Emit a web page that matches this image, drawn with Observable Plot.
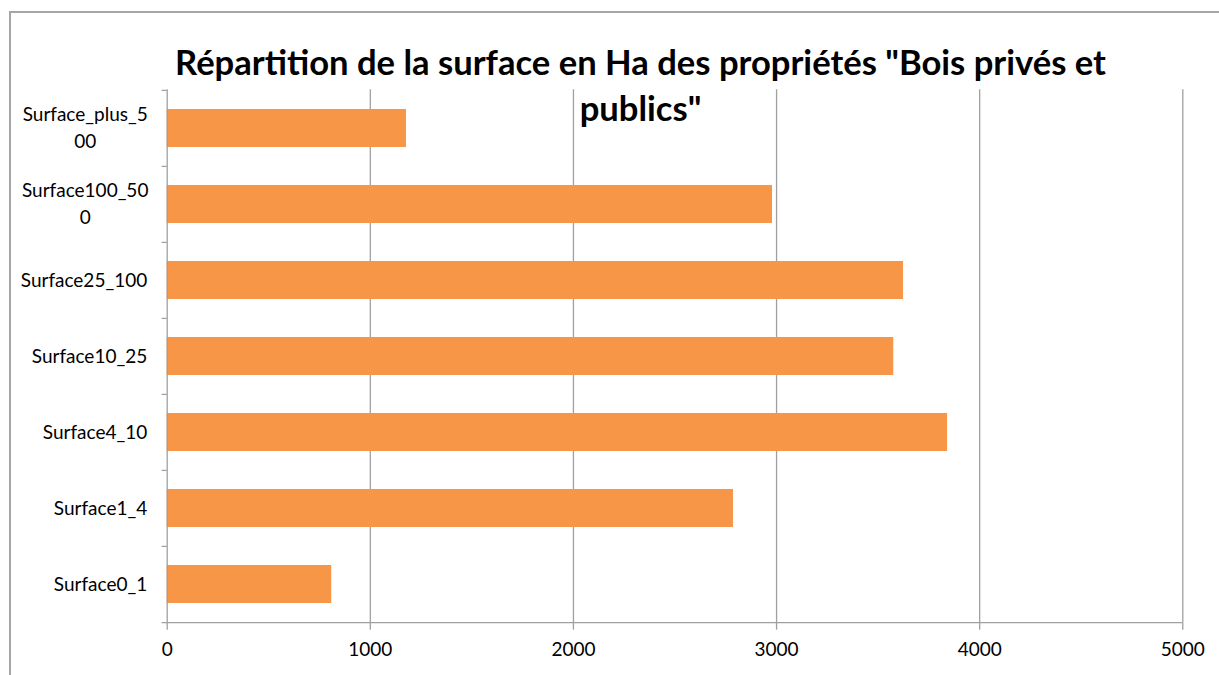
<!DOCTYPE html>
<html>
<head>
<meta charset="utf-8">
<script src="https://cdn.jsdelivr.net/npm/d3@7"></script>
<script src="https://cdn.jsdelivr.net/npm/@observablehq/plot@0.6"></script>
<style>
  html, body { margin: 0; padding: 0; background: #fff; }
  #wrap { position: relative; width: 1219px; height: 675px; overflow: hidden; }
  #border { position: absolute; left: 9px; top: 11px; width: 1230px; height: 690px;
            border-left: 2px solid #a6a6a6; border-top: 2px solid #a6a6a6; box-sizing: border-box; pointer-events: none; }
</style>
</head>
<body>
<div id="wrap"><div id="border"></div></div>
<script>
// Data (top to bottom as displayed)
const categories = ["Surface_plus_500", "Surface100_500", "Surface25_100", "Surface10_25", "Surface4_10", "Surface1_4", "Surface0_1"];
const categoryLabels = ["Surface_plus_5\n00", "Surface100_50\n0", "Surface25_100", "Surface10_25", "Surface4_10", "Surface1_4", "Surface0_1"];
const values = [1178, 2980, 3625, 3577, 3842, 2788, 810];
const xTicks = [0, 1000, 2000, 3000, 4000, 5000];
const titleText = "Répartition de la surface en Ha des propriétés \"Bois privés et\npublics\"";

const data = categories.map((c, i) => ({category: c, value: values[i]}));
const labelOf = new Map(categories.map((c, i) => [c, categoryLabels[i]]));
const wrapped = categories.filter(c => labelOf.get(c).includes("\n"));
const single = categories.filter(c => !labelOf.get(c).includes("\n"));

const W = 1219, H = 675;
const mTop = 89.3, mBottom = 52.3, mLeft = 166.7, mRight = 36.7;
const step = (H - mTop - mBottom) / categories.length;
const gridColor = "#a0a0a0";

const chart = Plot.plot({
  width: W,
  height: H,
  marginTop: mTop,
  marginBottom: mBottom,
  marginLeft: mLeft,
  marginRight: mRight,
  style: {fontFamily: "Lato, 'Open Sans', sans-serif", color: "#000", background: "transparent"},
  x: {domain: [0, 5000], label: null},
  y: {domain: categories, paddingInner: 0.5, paddingOuter: 0.25, label: null},
  marks: [
    Plot.ruleX(xTicks.slice(1), {stroke: gridColor, strokeWidth: 1.3}),
    Plot.barX(data, {y: "category", x: "value", fill: "#F79646"}),
    Plot.ruleX([0], {stroke: gridColor, strokeWidth: 1.3}),
    // band boundary ticks on y axis
    Plot.ruleY(categories, {y: d => d, x1: -25, x2: 0, dy: -step / 2, stroke: gridColor, strokeWidth: 1.3}),
    // bottom axis line (also last boundary tick)
    Plot.ruleY(categories.slice(-1), {y: d => d, x1: -25, x2: 5000, dy: step / 2, stroke: gridColor, strokeWidth: 1.3}),
    // single-line category labels: right aligned
    Plot.axisY({
      ticks: single, label: null, tickSize: 0, tickPadding: 20, textAnchor: "end", fontSize: 19, dy: 0,
      tickFormat: d => labelOf.get(d), fill: "#000"
    }),
    // wrapped category labels: centered lines within a right-aligned block
    Plot.axisY({
      ticks: wrapped, label: null, tickSize: 0, tickPadding: 82, textAnchor: "middle", fontSize: 19, lineHeight: 1.45, dy: -3,
      tickFormat: d => labelOf.get(d), fill: "#000"
    }),
    Plot.axisX({
      ticks: xTicks, label: null, tickSize: 7, tickPadding: 12, fontSize: 19, stroke: gridColor, strokeWidth: 1.3,
      tickFormat: d => String(d), fill: "#000"
    }),
    Plot.text([titleText], {
      frameAnchor: "top", dx: -34.5, dy: -47, lineAnchor: "top",
      fontSize: 34.6, fontWeight: "bold", lineHeight: 1.33, fill: "#000"
    })
  ]
});
document.getElementById("wrap").prepend(chart);
</script>
</body>
</html>
